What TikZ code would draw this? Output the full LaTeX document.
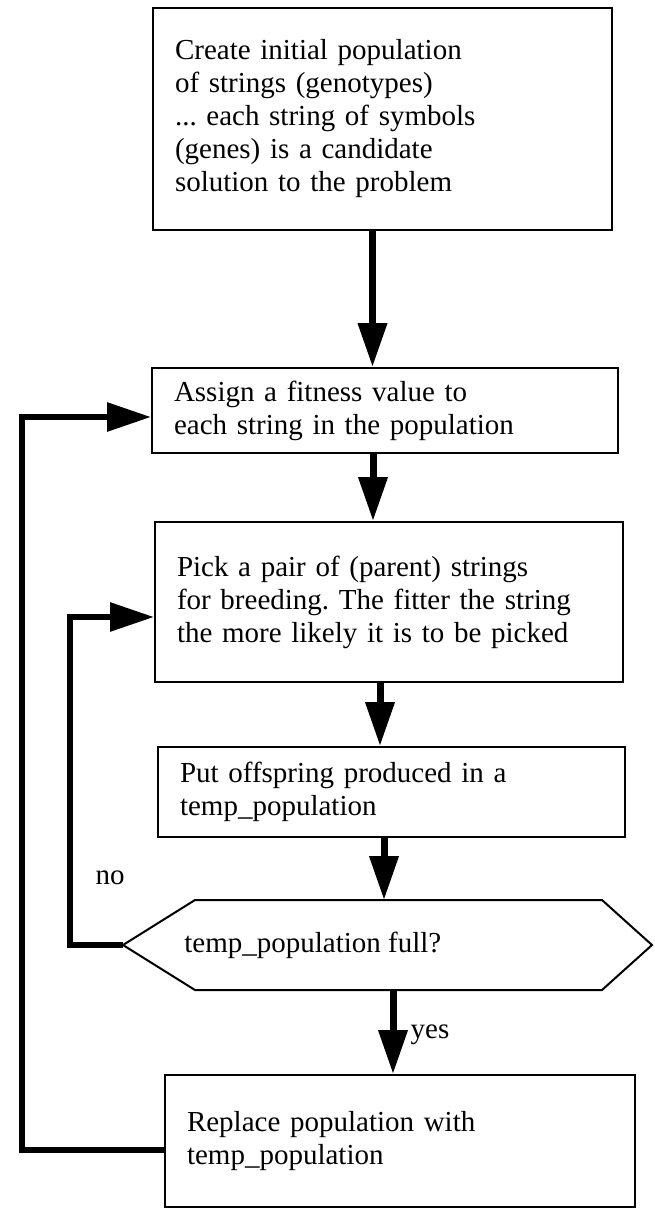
\documentclass[tikz,border=0pt]{standalone}
\usepackage{fontspec}
\setmainfont{Liberation Serif}
\usetikzlibrary{arrows.meta}
\frenchspacing

\begin{document}
\begin{tikzpicture}[x=0.5pt,y=-0.5pt,
    stepbox/.style={draw,line width=1pt,align=left,inner xsep=11pt,inner ysep=0pt,
      font=\fontsize{14.5}{16.5}\selectfont},
    lbl/.style={font=\fontsize{14.5}{16.5}\selectfont,inner sep=0pt},
    flow/.style={line width=3.5pt,-{Triangle[length=22pt,width=14pt]}},
    backflow/.style={line width=3pt,-{Triangle[length=22pt,width=14pt]}}]
    \useasboundingbox (0,0) rectangle (654,1216);

    \node[stepbox,text width=207.5pt,minimum height=111pt] (create) at (382.5,119)
      {Create initial population\\ of strings (genotypes)\\ ... each string of symbols\\
       (genes) is a candidate\\ solution to the problem};
    \node[stepbox,text width=211pt,minimum height=42.5pt] (fitness) at (385,410.5)
      {Assign a fitness value to\\ each string in the population};
    \node[stepbox,text width=212pt,minimum height=80pt] (pick) at (389,602)
      {Pick a pair of (parent) strings\\ for breeding. The fitter the string\\
       the more likely it is to be picked};
    \node[stepbox,text width=211.5pt,minimum height=45pt] (offspring) at (391.5,792)
      {Put offspring produced in a\\ temp\_population};
    \node[stepbox,text width=213pt,minimum height=66pt] (replace) at (400,1141)
      {Replace population with\\ temp\_population};

    \coordinate (hexL) at (123,945);
    \coordinate (hexTL) at (195,900);
    \coordinate (hexTR) at (602,900);
    \coordinate (hexR) at (652,945);
    \coordinate (hexBR) at (602,990);
    \coordinate (hexBL) at (195,990);
    \coordinate (hexB) at (393,990);
    \draw[line width=1pt] (hexL) -- (hexTL) -- (hexTR) -- (hexR) -- (hexBR) -- (hexBL) -- cycle;
    \node[lbl,anchor=west] (full) at (184,945) {temp\_population full?};

    \draw[flow] ([xshift=-5pt]create.south) -- ([xshift=-5pt]create.south |- fitness.north);
    \draw[flow] ([xshift=-6pt]fitness.south) -- ([xshift=-6pt]fitness.south |- pick.north);
    \draw[flow] ([xshift=-4.5pt]pick.south) -- ([xshift=-4.5pt]pick.south |- offspring.north);
    \draw[flow] ([xshift=-3.75pt]offspring.south) -- ([xshift=-3.75pt]offspring.south |- hexTL);
    \draw[flow] (hexB) -- (hexB |- replace.north);

    \coordinate (outer) at (22,700);
    \coordinate (inner) at (70,800);
    \draw[backflow] ([yshift=-4.5pt]replace.west) -| (outer) |- ([yshift=-3.25pt]fitness.west);
    \draw[backflow] (hexL) -| (inner) |- ([yshift=-7.5pt]pick.west);

    \node[lbl] (no) at (110,878) {no};
    \node[lbl] (yes) at (430,1035) {yes};
\end{tikzpicture}
\end{document}
